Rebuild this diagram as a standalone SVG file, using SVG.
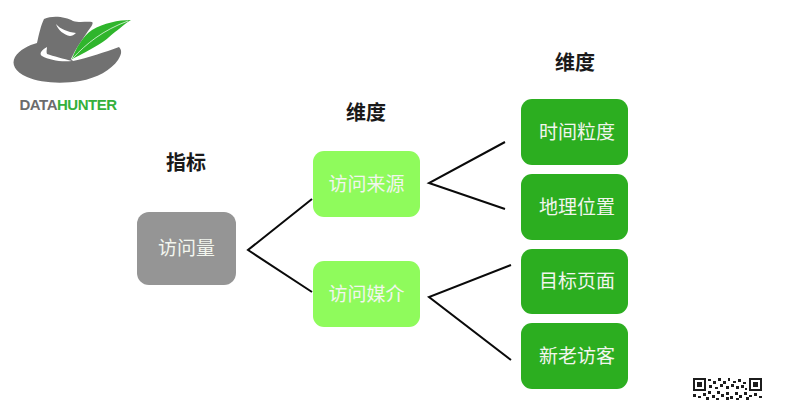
<svg xmlns="http://www.w3.org/2000/svg" width="787" height="400" viewBox="0 0 787 400">
<style>
text{font-family:"Liberation Sans","Noto Sans CJK SC",sans-serif;text-anchor:middle}
.h{font-size:20px;font-weight:700;fill:#1a1a1a}
.l{font-size:19px;fill:#f2f5ee;font-family:"Noto Sans CJK SC",sans-serif}
.g{fill:#959595}.a{fill:#8ffb5c}.d{fill:#2cae20}
.c{fill:none;stroke:#0a0a0a;stroke-width:2}
.q{fill:#1c1c1c}
</style>
<rect width="787" height="400" fill="#fff"/>
<g id="logo">
<path fill="#717171" d="M44 19C53 15 66 17 73 21C80 23 87 21 92 22C94 23 91 27 88 31C84 37 79 44 75 51L71 59L73 61C88 58 105 52 119 47C122 50 122 54 118 60C111 70 97 78 80 81C62 84 40 83 27 77C15 72 11 64 15 57C19 50 29 45 37 43C39 34 41 25 44 19Z"/>
<path fill="#fff" d="M56 24C60 29 68 32 76 33C74 35 72 36 70 36C64 35 58 30 56 24Z"/>
<path fill="#fff" d="M47 47C41 50 39 54 42 56C49 60 60 62 72 61C64 59 53 56 47 54C46 52 47 49 47 47Z"/>
<path fill="#2fb52c" d="M72 59C76 48 83 36 92 30C104 23 118 20 131 20C124 24 121 28 115 32C109 37 105 41 98 45C90 50 82 54 72 59Z"/>
<path fill="none" stroke="#fff" stroke-width="0.7" d="M73 58C86 44 103 30 128 21"/>
<text x="68" y="110" style="font-size:15px;font-weight:700;letter-spacing:-0.5px"><tspan fill="#6c6c6c">DATA</tspan><tspan fill="#35b03c">HUNTER</tspan></text>
</g>
<g id="connectors">
<path class="c" d="M312 199L248 250L312 292"/>
<path class="c" d="M505 142L429 183L505 209"/>
<path class="c" d="M511 265L429 297L511 360"/>
</g>
<text class="h" x="186" y="170">指标</text>
<text class="h" x="366" y="120">维度</text>
<text class="h" x="575" y="70">维度</text>
<g id="n-visits"><rect class="g" x="137" y="212" width="99" height="73" rx="12"/><text class="l" x="186.500" y="255">访问量</text></g>
<g id="n-source"><rect class="a" x="313" y="151" width="107" height="66" rx="11"/><text class="l" x="366.500" y="191">访问来源</text></g>
<g id="n-medium"><rect class="a" x="313" y="261" width="107" height="66" rx="11"/><text class="l" x="366.500" y="301">访问媒介</text></g>
<g id="n-time"><rect class="d" x="521" y="99" width="107" height="66" rx="11"/><text class="l" x="577" y="139">时间粒度</text></g>
<g id="n-geo"><rect class="d" x="521" y="174" width="107" height="66" rx="11"/><text class="l" x="577" y="214">地理位置</text></g>
<g id="n-page"><rect class="d" x="521" y="249" width="107" height="65" rx="11"/><text class="l" x="577" y="288">目标页面</text></g>
<g id="n-new"><rect class="d" x="521" y="323" width="107" height="66" rx="11"/><text class="l" x="577" y="363">新老访客</text></g>
<g id="qr">
<path class="q" fill-rule="evenodd" d="M693 378h13v13h-13zM695 380v9h9v-9zM749 378h13v13h-13zM751 380v9h9v-9z"/>
<rect class="q" x="697" y="382" width="5" height="5"/><rect class="q" x="753" y="382" width="5" height="5"/>
<path class="q" d="M708 379h3v2h-3zM713 381h3v3h-3zM718 378h3v3h-3zM723 381h3v3h-3zM728 378h2v3h-2zM733 381h3v2h-3zM738 379h3v3h-3zM743 382h3v2h-3zM709 385h3v3h-3zM715 387h3v2h-3zM720 384h3v3h-3zM726 386h3v3h-3zM731 384h3v3h-3zM736 386h3v3h-3zM741 385h3v3h-3zM745 388h2v2h-2zM693 394h3v3h-3zM698 396h3v2h-3zM703 393h3v3h-3zM708 391h3v3h-3zM712 395h3v3h-3zM717 391h3v3h-3zM721 394h3v3h-3zM726 392h3v3h-3zM730 396h3v3h-3zM735 392h3v3h-3zM739 395h3v3h-3zM744 392h3v3h-3zM749 395h3v2h-3zM754 393h3v3h-3zM759 396h3v2h-3zM706 397h3v3h-3zM716 398h3v2h-3zM726 397h3v3h-3zM736 398h3v2h-3zM746 397h3v3h-3z"/>
</g>
</svg>
